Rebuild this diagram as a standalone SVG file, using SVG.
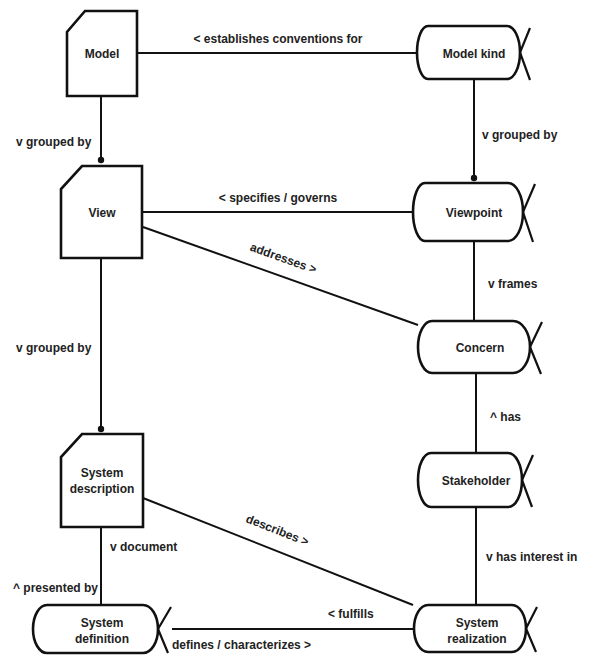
<svg xmlns="http://www.w3.org/2000/svg" width="591" height="669" viewBox="0 0 591 669">
<style>
text{font-family:"Liberation Sans",Arial,sans-serif;font-size:12px;font-weight:bold;fill:#222}
.n{fill:#fff;stroke:#111;stroke-width:2.6;stroke-linejoin:miter}
.x{fill:none;stroke:#111;stroke-width:2.2}
.c{fill:none;stroke:#111;stroke-width:2}
.d{fill:#111}
.m{text-anchor:middle}
.e{text-anchor:end}
</style>
<rect width="591" height="669" fill="#fff"/>
<g id="connectors">
<line class="c" x1="137" y1="53" x2="417" y2="53"/>
<line class="c" x1="101" y1="96" x2="101" y2="160"/>
<circle class="d" cx="101" cy="160" r="3.2"/>
<line class="c" x1="474" y1="79" x2="474" y2="178"/>
<circle class="d" cx="474" cy="178" r="3.2"/>
<line class="c" x1="142" y1="212" x2="413" y2="212"/>
<line class="c" x1="143" y1="227" x2="418" y2="325"/>
<line class="c" x1="474" y1="241" x2="474" y2="321"/>
<line class="c" x1="101" y1="258" x2="101" y2="429"/>
<circle class="d" cx="101" cy="429" r="3.2"/>
<line class="c" x1="476" y1="373" x2="476" y2="453"/>
<line class="c" x1="476" y1="507" x2="476" y2="605"/>
<line class="c" x1="143" y1="498" x2="413" y2="605"/>
<line class="c" x1="101" y1="527" x2="101" y2="605"/>
<line class="c" x1="172" y1="629" x2="414" y2="629"/>
<text class="m" x="278" y="43">&lt; establishes conventions for</text>
<text x="16" y="146">v grouped by</text>
<text x="482" y="139">v grouped by</text>
<text class="m" x="278" y="202">&lt; specifies / governs</text>
<text class="m" transform="translate(282,262) rotate(19.6)" x="0" y="0">addresses &gt;</text>
<text x="488" y="288">v frames</text>
<text x="16" y="352">v grouped by</text>
<text x="490" y="421">^ has</text>
<text class="m" transform="translate(276,534) rotate(21.4)" x="0" y="0">describes &gt;</text>
<text x="486" y="561">v has interest in</text>
<text x="110" y="551">v document</text>
<text class="e" x="98" y="592">^ presented by</text>
<text x="328" y="618">&lt; fulfills</text>
<text x="172" y="649">defines / characterizes &gt;</text>
</g>
<g id="model">
<path class="n" d="M85 11 H137 V96 H67 V32 Z"/>
<text class="m" x="102" y="58">Model</text>
</g>
<g id="model-kind">
<path class="n" d="M428 26 H507 A13 26.5 0 0 1 520 52.5 A13 26.5 0 0 1 507 79 H428 A11 26.5 0 0 1 417 52.5 A11 26.5 0 0 1 428 26 Z"/>
<path class="x" d="M530 28 L520 52.5 L530 80"/>
<text class="m" x="474" y="58">Model kind</text>
</g>
<g id="view">
<path class="n" d="M82 166 H142 V258 H61 V189 Z"/>
<text class="m" x="102" y="217">View</text>
</g>
<g id="viewpoint">
<path class="n" d="M425 183 H508 A15 29 0 0 1 523 212 A15 29 0 0 1 508 241 H425 A12 29 0 0 1 413 212 A12 29 0 0 1 425 183 Z"/>
<path class="x" d="M535 184 L523 212 L533 242"/>
<text class="m" x="474" y="217">Viewpoint</text>
</g>
<g id="concern">
<path class="n" d="M432 321 H513 A17 26 0 0 1 530 347 A17 26 0 0 1 513 373 H432 A14 26 0 0 1 418 347 A14 26 0 0 1 432 321 Z"/>
<path class="x" d="M542 322 L530 347 L541 374"/>
<text class="m" x="480" y="352">Concern</text>
</g>
<g id="stakeholder">
<path class="n" d="M431 453 H508 A14 27 0 0 1 522 480 A14 27 0 0 1 508 507 H431 A13 27 0 0 1 418 480 A13 27 0 0 1 431 453 Z"/>
<path class="x" d="M533 455 L522 480 L532 507"/>
<text class="m" x="476" y="485">Stakeholder</text>
</g>
<g id="system-description">
<path class="n" d="M82 434 H143 V527 H61 V457 Z"/>
<text class="m" x="102" y="477">System</text>
<text class="m" x="102" y="493">description</text>
</g>
<g id="system-definition">
<path class="n" d="M47 605 H143 A15 24 0 0 1 158 629 A15 24 0 0 1 143 653 H47 A14 24 0 0 1 33 629 A14 24 0 0 1 47 605 Z"/>
<path class="x" d="M171 607 L158 629 L168 653"/>
<text class="m" x="102" y="627">System</text>
<text class="m" x="102" y="643">definition</text>
</g>
<g id="system-realization">
<path class="n" d="M428 605 H512 A14 23.5 0 0 1 526 628.5 A14 23.5 0 0 1 512 652 H428 A14 23.5 0 0 1 414 628.5 A14 23.5 0 0 1 428 605 Z"/>
<path class="x" d="M537 607 L526 628.5 L536 652"/>
<text class="m" x="477" y="627">System</text>
<text class="m" x="477" y="643">realization</text>
</g>
</svg>
